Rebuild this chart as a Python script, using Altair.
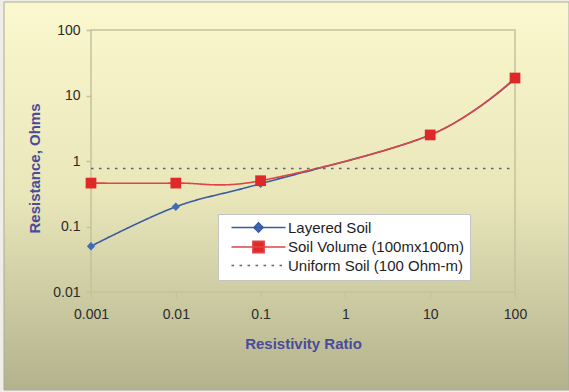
import altair as alt
import pandas as pd

# ---- data ----
ratio = [0.001, 0.01, 0.1, 10, 100]
layered_soil = [0.05, 0.2, 0.45, 2.5, 18]
soil_volume = [0.46, 0.46, 0.5, 2.5, 18.5]
uniform_x = [0.001, 100]
uniform_soil = [0.77, 0.77]
series_names = ["Layered Soil", "Soil Volume (100mx100m)", "Uniform Soil (100 Ohm-m)"]
x_ticks = [0.001, 0.01, 0.1, 1, 10, 100]
y_ticks = [0.01, 0.1, 1, 10, 100]

BLUE_LINE = "#3A5BA0"
BLUE_MARK = "#3D6DB8"
RED_LINE = "#E04444"
RED_MARK = "#E02828"
DOT = "#5E6272"
TITLE_C = "#4B4B9B"
FRAME = "#C4C29C"
FONT = "Liberation Sans"

rows = []
for x, y in zip(ratio, layered_soil):
    rows.append({"ratio": x, "resistance": y, "series": series_names[0]})
for x, y in zip(ratio, soil_volume):
    rows.append({"ratio": x, "resistance": y, "series": series_names[1]})
for x, y in zip(uniform_x, uniform_soil):
    rows.append({"ratio": x, "resistance": y, "series": series_names[2]})
df = pd.DataFrame(rows)

xscale = alt.Scale(type="log", domain=[0.001, 100], nice=False)
yscale = alt.Scale(type="log", domain=[0.01, 100], nice=False)

xaxis = alt.Axis(values=x_ticks, format="~g", title="Resistivity Ratio", grid=False,
                 labelPadding=10, titlePadding=15, domain=False, zindex=1, labelFlush=False)
yaxis = alt.Axis(values=y_ticks, format="~g", title="Resistance, Ohms", grid=False,
                 labelPadding=6, titlePadding=10, domain=False, zindex=1, titleY=138,
                 labelFlush=False)

US = series_names[2]
LS = series_names[0]
p_ls = "M0,0H13.5M6.75,-1.15L7.9,0L6.75,1.15L5.6,0Z"
p_sv = "M0,0H13.5M5.35,-1.4H8.15V1.4H5.35Z"
p_us = "M0,0H13.5"
shape_expr = f"datum.value === '{LS}' ? '{p_ls}' : (datum.value === '{US}' ? '{p_us}' : '{p_sv}')"
fill_expr = f"datum.value === '{US}' ? 'transparent' : (datum.value === '{LS}' ? '{BLUE_MARK}' : '{RED_MARK}')"
dash_expr = f"datum.value === '{US}' ? [2,4] : [1,0]"

legend = alt.Legend(
    title=None, orient="none", legendX=127, legendY=184,
    fillColor="white", strokeColor="#C4C4C4", padding=6,
    labelFont=FONT, labelFontSize=15, labelColor="#1E1E1E", labelLimit=400,
    symbolSize=64, symbolStrokeWidth=1.5, labelOffset=49, rowPadding=1.5,
    symbolType={"expr": shape_expr},
    symbolFillColor={"expr": fill_expr},
    symbolDash={"expr": dash_expr},
    symbolOpacity=1,
)

one = pd.DataFrame({"a": [0]})

bg = alt.Chart(one).mark_rect(
    color=alt.Gradient(gradient="linear", x1=0, x2=0, y1=0, y2=1,
                       stops=[alt.GradientStop(color="#FBF8CF", offset=0),
                              alt.GradientStop(color="#E9E6BA", offset=0.5),
                              alt.GradientStop(color="#B2B28C", offset=1)]),
    stroke="#A9A99A", strokeWidth=1,
).encode(x=alt.value(-87), x2=alt.value(478), y=alt.value(-28), y2=alt.value(360))

frame = alt.Chart(one).mark_rect(
    fill="transparent", stroke=FRAME, strokeWidth=1.5,
).encode(x=alt.value(0), x2=alt.value(424), y=alt.value(0), y2=alt.value(262))

lines = alt.Chart(df).mark_line(interpolate="cardinal", strokeWidth=1.6).encode(
    x=alt.X("ratio:Q", scale=xscale, axis=xaxis),
    y=alt.Y("resistance:Q", scale=yscale, axis=yaxis),
    color=alt.Color("series:N", scale=alt.Scale(domain=series_names,
                                                range=[BLUE_LINE, RED_LINE, DOT]),
                    legend=legend),
    strokeDash=alt.StrokeDash("series:N", scale=alt.Scale(domain=series_names,
                                                          range=[[1, 0], [1, 0], [2.5, 5.5]]),
                              legend=None),
    strokeWidth=alt.StrokeWidth("series:N", scale=alt.Scale(domain=series_names,
                                                            range=[1.6, 1.6, 2]),
                                legend=None),
)

blue_pts = alt.Chart(df[df["series"] == LS]).mark_point(
    shape="diamond", filled=True, size=70, opacity=1, color=BLUE_MARK
).encode(x="ratio:Q", y="resistance:Q")

red_pts = alt.Chart(df[df["series"] == series_names[1]]).mark_point(
    shape="square", filled=True, size=115, opacity=1, color=RED_MARK
).encode(x="ratio:Q", y="resistance:Q")

chart = alt.layer(bg, frame, lines, blue_pts, red_pts).properties(
    width=424, height=262, autosize="none",
    padding={"left": 91, "top": 30, "right": 54, "bottom": 100},
    background="#EEEEE6",
).configure_view(stroke=None).configure_axis(
    labelFont=FONT, labelFontSize=14, labelColor="#2B2B2B",
    titleFont=FONT, titleFontSize=15, titleColor=TITLE_C, titleFontWeight="bold",
    tickColor=FRAME, tickSize=5, tickWidth=1.5,
)

chart.save("out.html", embed_options={"renderer": "svg", "actions": False})
